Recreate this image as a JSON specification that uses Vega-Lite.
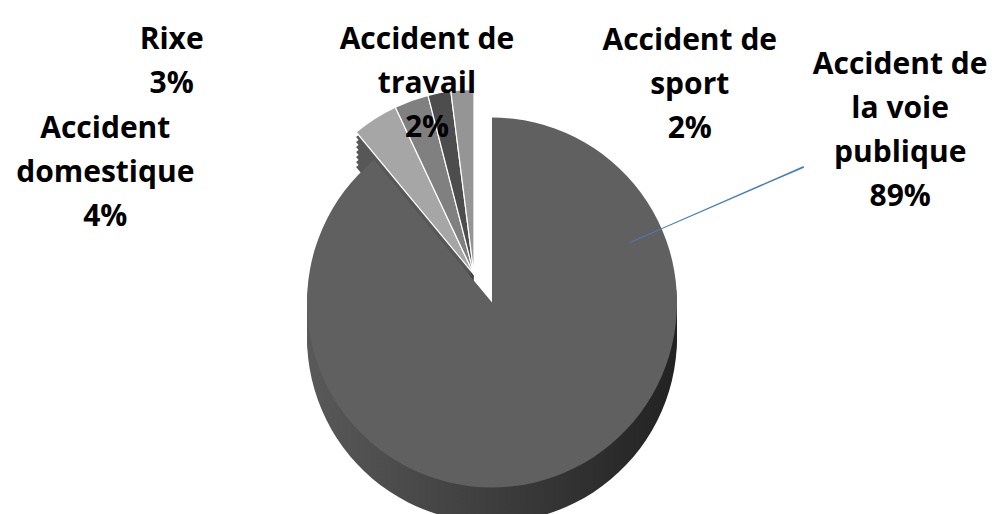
{
  "$schema": "https://vega.github.io/schema/vega-lite/v6.json",
  "width": 999,
  "height": 514,
  "autosize": {"type": "fit", "contains": "padding"},
  "padding": {"top": 70, "bottom": 0, "left": 0, "right": 15},
  "background": "white",
  "config": {"view": {"stroke": null}, "text": {"font": "Open Sans", "fontWeight": "bold", "fontSize": 30, "lineHeight": 44, "color": "#000000"}},
  "data": {"values": [
    {"cause": "Accident de la voie publique", "value": 89},
    {"cause": "Accident domestique", "value": 4},
    {"cause": "Rixe", "value": 3},
    {"cause": "Accident de travail", "value": 2},
    {"cause": "Accident de sport", "value": 2}
  ]},
  "transform": [
    {"stack": "value", "groupby": [], "sort": [{"field": "value", "order": "descending"}, {"field": "cause", "order": "descending"}], "as": ["v0", "v1"]}
  ],
  "encoding": {
    "theta": {"field": "v0", "type": "quantitative", "stack": null, "scale": {"domain": [0, 100]}},
    "theta2": {"field": "v1"}
  },
  "layer": [
    {"transform": [{"filter": "datum.cause != 'Accident de la voie publique'"}],
     "mark": {"type": "arc", "radius": 185, "xOffset": -18, "yOffset": 7},
     "encoding": {"color": {"field": "cause", "type": "nominal", "legend": null, "scale": {"domain": ["Accident domestique", "Rixe", "Accident de travail", "Accident de sport"], "range": ["#575757", "#3c3c3c", "#2c2c2c", "#767676"]}}}},
    {"transform": [{"filter": "datum.cause != 'Accident de la voie publique'"}],
     "mark": {"type": "arc", "radius": 185, "xOffset": -18, "yOffset": 2},
     "encoding": {"color": {"field": "cause", "type": "nominal", "legend": null}}},
    {"transform": [{"filter": "datum.cause != 'Accident de la voie publique'"}],
     "mark": {"type": "arc", "radius": 185, "xOffset": -18, "yOffset": -3},
     "encoding": {"color": {"field": "cause", "type": "nominal", "legend": null}}},
    {"transform": [{"filter": "datum.cause != 'Accident de la voie publique'"}],
     "mark": {"type": "arc", "radius": 185, "xOffset": -18, "yOffset": -8},
     "encoding": {"color": {"field": "cause", "type": "nominal", "legend": null}}},
    {"transform": [{"filter": "datum.cause != 'Accident de la voie publique'"}],
     "mark": {"type": "arc", "radius": 185, "xOffset": -18, "yOffset": -13},
     "encoding": {"color": {"field": "cause", "type": "nominal", "legend": null}}},
    {"transform": [{"filter": "datum.cause != 'Accident de la voie publique'"}],
     "mark": {"type": "arc", "radius": 185, "xOffset": -18, "yOffset": -18},
     "encoding": {"color": {"field": "cause", "type": "nominal", "legend": null}}},
    {"transform": [{"filter": "datum.cause != 'Accident de la voie publique'"}],
     "mark": {"type": "arc", "radius": 185, "xOffset": -18, "yOffset": -23},
     "encoding": {"color": {"field": "cause", "type": "nominal", "legend": null}}},
    {"transform": [{"filter": "datum.cause != 'Accident de la voie publique'"}],
     "mark": {"type": "arc", "radius": 185, "xOffset": -18, "yOffset": -28, "stroke": "white", "strokeWidth": 1.2},
     "encoding": {"fill": {"field": "cause", "type": "nominal", "legend": null, "scale": {"domain": ["Accident domestique", "Rixe", "Accident de travail", "Accident de sport"], "range": ["#a6a6a6", "#808080", "#4d4d4d", "#959595"]}}}},
    {"transform": [{"filter": "datum.cause == 'Accident de la voie publique'"}],
     "mark": {"type": "arc", "radius": 185, "yOffset": 35, "color": {"gradient": "linear", "x1": 0, "x2": 1, "y1": 0, "y2": 0, "stops": [{"offset": 0, "color": "#595959"}, {"offset": 1, "color": "#222222"}]}}},
    {"transform": [{"filter": "datum.cause == 'Accident de la voie publique'"}],
     "mark": {"type": "arc", "radius": 185, "yOffset": 30, "color": {"gradient": "linear", "x1": 0, "x2": 1, "y1": 0, "y2": 0, "stops": [{"offset": 0, "color": "#595959"}, {"offset": 1, "color": "#222222"}]}}},
    {"transform": [{"filter": "datum.cause == 'Accident de la voie publique'"}],
     "mark": {"type": "arc", "radius": 185, "yOffset": 25, "color": {"gradient": "linear", "x1": 0, "x2": 1, "y1": 0, "y2": 0, "stops": [{"offset": 0, "color": "#595959"}, {"offset": 1, "color": "#222222"}]}}},
    {"transform": [{"filter": "datum.cause == 'Accident de la voie publique'"}],
     "mark": {"type": "arc", "radius": 185, "yOffset": 20, "color": {"gradient": "linear", "x1": 0, "x2": 1, "y1": 0, "y2": 0, "stops": [{"offset": 0, "color": "#595959"}, {"offset": 1, "color": "#222222"}]}}},
    {"transform": [{"filter": "datum.cause == 'Accident de la voie publique'"}],
     "mark": {"type": "arc", "radius": 185, "yOffset": 15, "color": {"gradient": "linear", "x1": 0, "x2": 1, "y1": 0, "y2": 0, "stops": [{"offset": 0, "color": "#595959"}, {"offset": 1, "color": "#222222"}]}}},
    {"transform": [{"filter": "datum.cause == 'Accident de la voie publique'"}],
     "mark": {"type": "arc", "radius": 185, "yOffset": 10, "color": {"gradient": "linear", "x1": 0, "x2": 1, "y1": 0, "y2": 0, "stops": [{"offset": 0, "color": "#595959"}, {"offset": 1, "color": "#222222"}]}}},
    {"transform": [{"filter": "datum.cause == 'Accident de la voie publique'"}],
     "mark": {"type": "arc", "radius": 185, "yOffset": 5, "color": {"gradient": "linear", "x1": 0, "x2": 1, "y1": 0, "y2": 0, "stops": [{"offset": 0, "color": "#595959"}, {"offset": 1, "color": "#222222"}]}}},
    {"transform": [{"filter": "datum.cause == 'Accident de la voie publique'"}],
     "mark": {"type": "arc", "radius": 185, "color": "#606060"}},
    {"transform": [{"filter": "datum.cause == 'Accident de la voie publique'"}],
     "mark": {"type": "arc", "theta": 1.158, "theta2": 1.163, "radius": 340, "radius2": 150, "color": "#4a7ebb"},
     "encoding": {"theta": null, "theta2": null}},
    {"transform": [{"filter": "datum.cause == 'Accident de la voie publique'"}, {"calculate": "[slice(datum.cause, 0, 11), slice(datum.cause, 12, 19), slice(datum.cause, 20), datum.value + '%']", "as": "lbl"}],
     "mark": {"type": "text", "theta": 1.0446, "radius": 472, "baseline": "middle", "align": "center"},
     "encoding": {"theta": null, "theta2": null, "text": {"field": "lbl"}}},
    {"transform": [{"filter": "datum.cause == 'Accident de sport'"}, {"calculate": "[slice(datum.cause, 0, 11), slice(datum.cause, 12), datum.value + '%']", "as": "lbl"}],
     "mark": {"type": "text", "theta": 0.6472, "radius": 328, "baseline": "middle", "align": "center"},
     "encoding": {"theta": null, "theta2": null, "text": {"field": "lbl"}}},
    {"transform": [{"filter": "datum.cause == 'Accident de travail'"}, {"calculate": "[slice(datum.cause, 0, 11), slice(datum.cause, 12), datum.value + '%']", "as": "lbl"}],
     "mark": {"type": "text", "theta": -0.2432, "radius": 270, "baseline": "middle", "align": "center"},
     "encoding": {"theta": null, "theta2": null, "text": {"field": "lbl"}}},
    {"transform": [{"filter": "datum.cause == 'Rixe'"}, {"calculate": "[datum.cause, datum.value + '%']", "as": "lbl"}],
     "mark": {"type": "text", "theta": -0.8848, "radius": 414, "baseline": "middle", "align": "center"},
     "encoding": {"theta": null, "theta2": null, "text": {"field": "lbl"}}},
    {"transform": [{"filter": "datum.cause == 'Accident domestique'"}, {"calculate": "[slice(datum.cause, 0, 8), slice(datum.cause, 9), datum.value + '%']", "as": "lbl"}],
     "mark": {"type": "text", "theta": -1.1483, "radius": 424, "baseline": "middle", "align": "center"},
     "encoding": {"theta": null, "theta2": null, "text": {"field": "lbl"}}}
  ]
}
